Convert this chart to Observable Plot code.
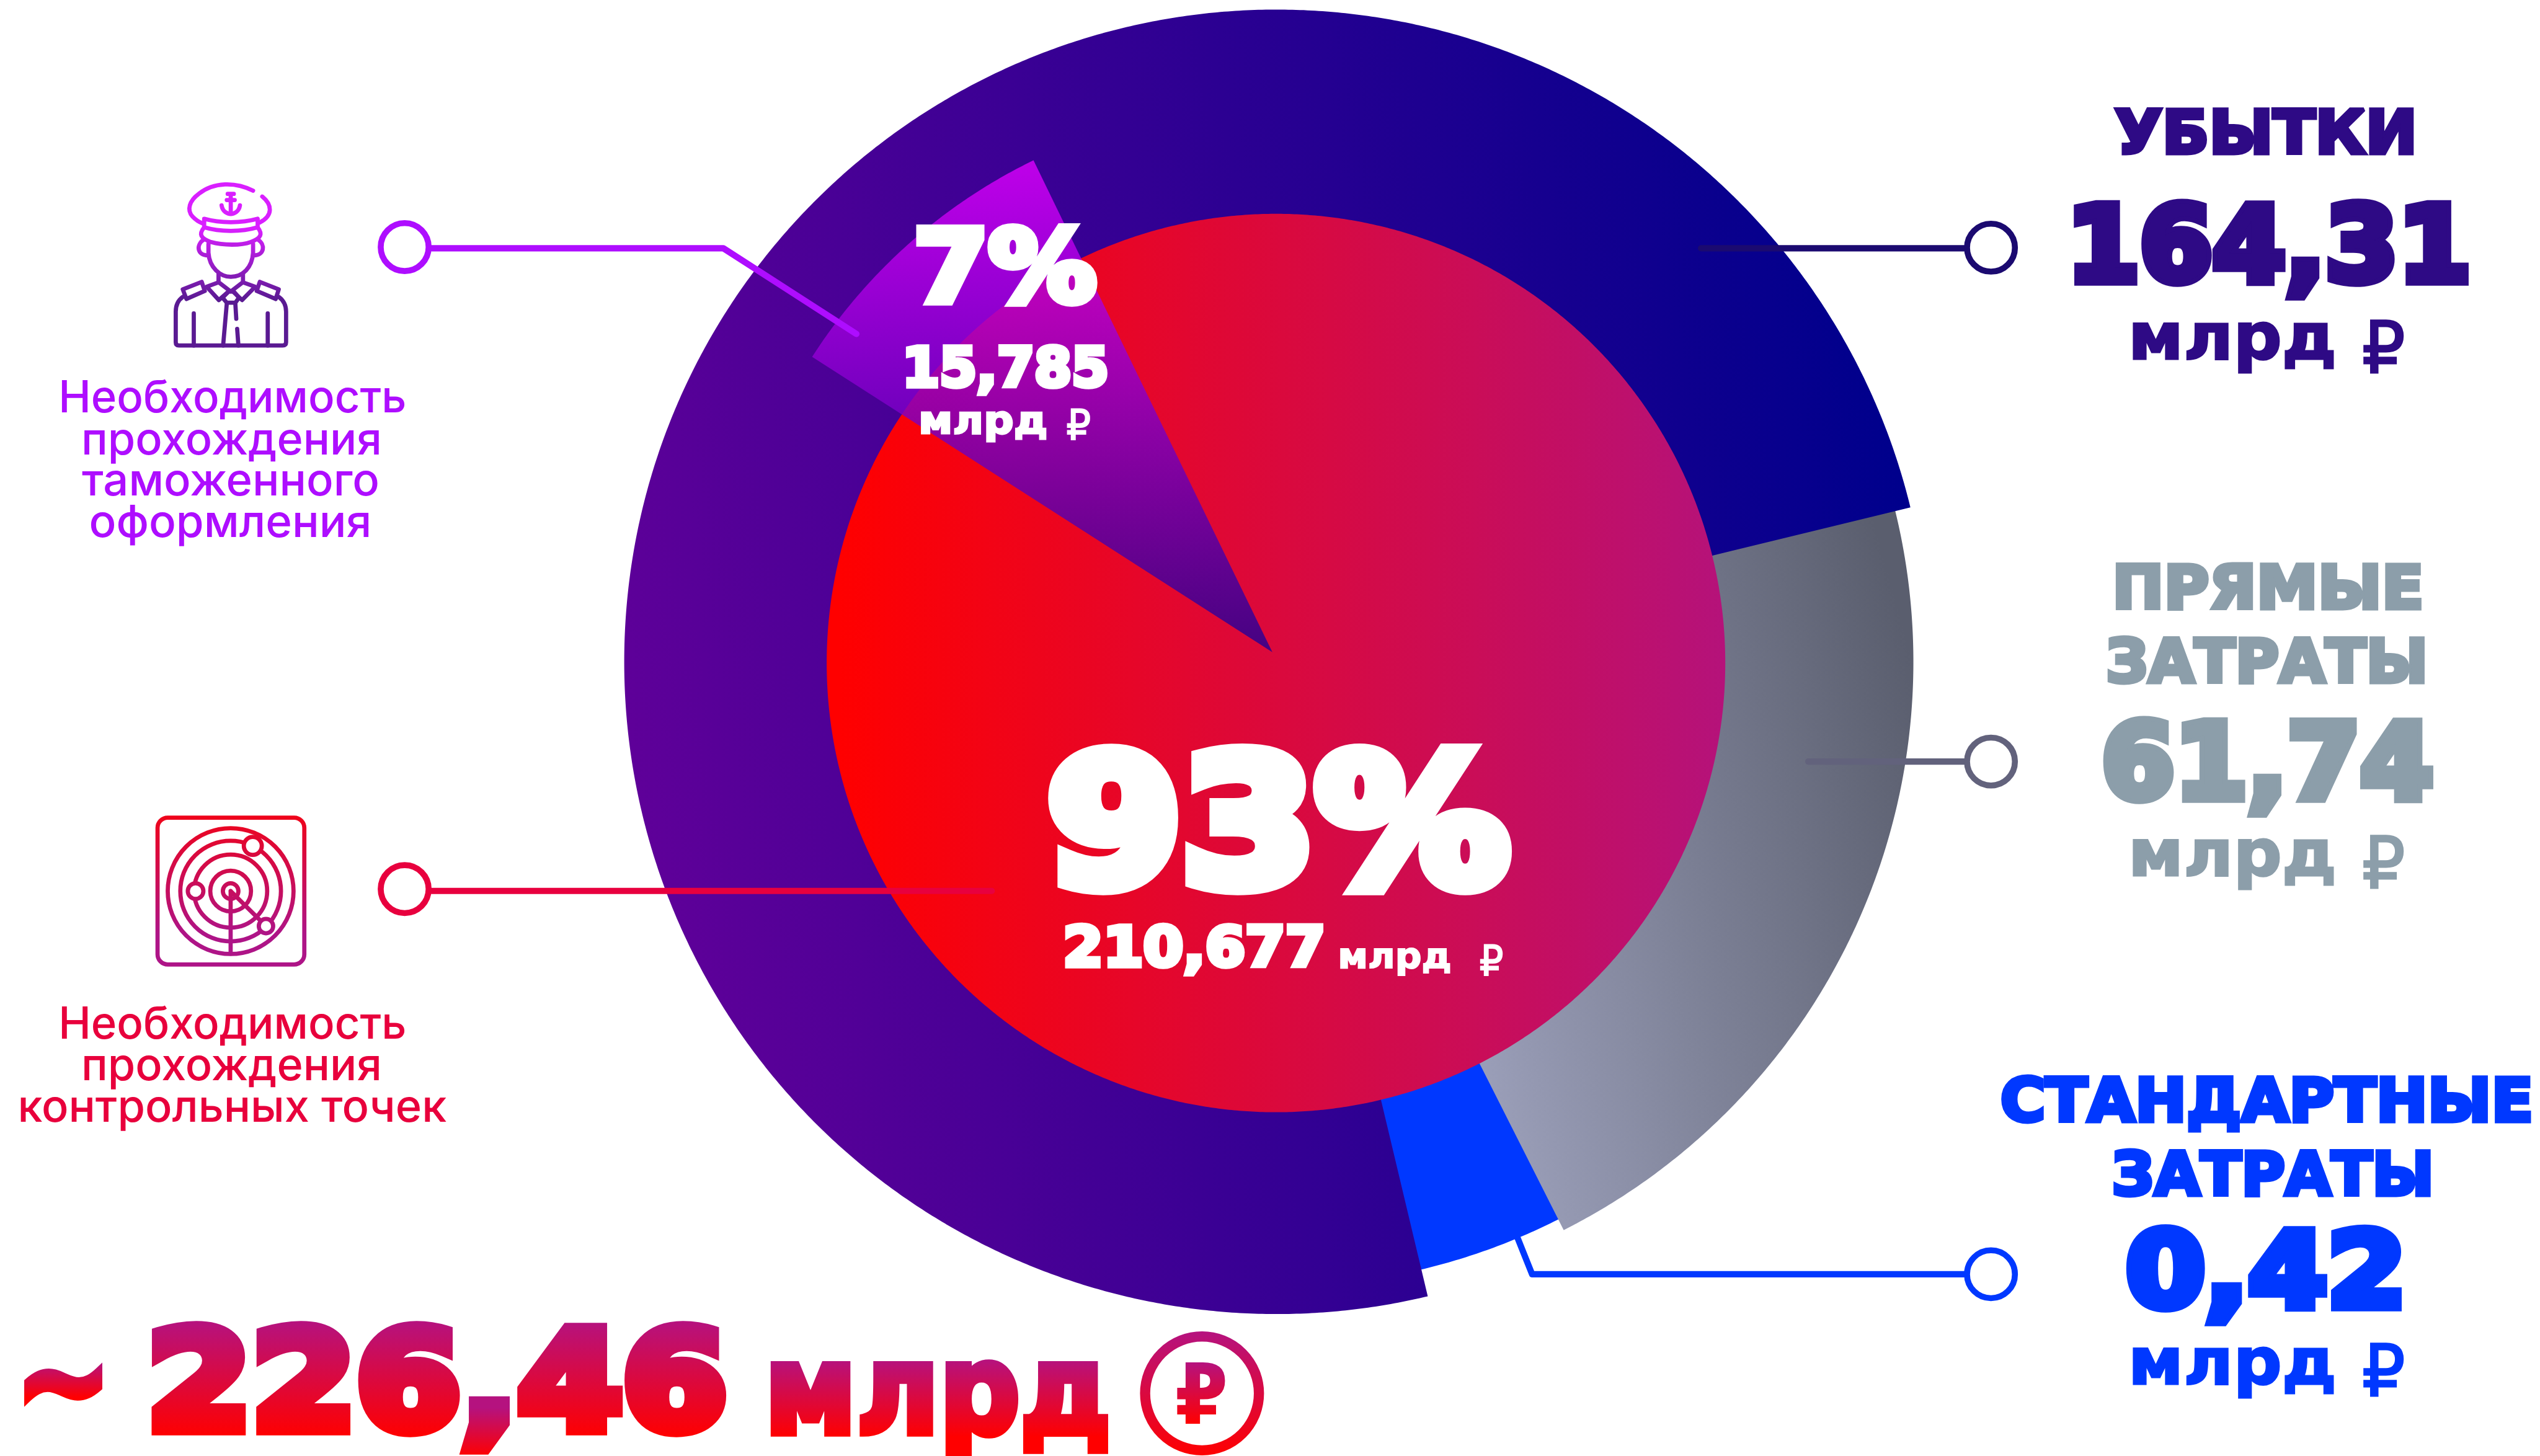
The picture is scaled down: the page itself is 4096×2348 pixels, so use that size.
<!DOCTYPE html>
<html lang="ru">
<head>
<meta charset="utf-8">
<style>html,body{margin:0;padding:0;background:#fff}svg{display:block}</style>
<script src="https://cdn.jsdelivr.net/npm/d3@7"></script>
<script src="https://cdn.jsdelivr.net/npm/@observablehq/plot@0.6"></script>
</head>
<body>
<script>
// ---------- values ----------
const ringNames   = ["УБЫТКИ", "ПРЯМЫЕ", "ЗАТРАТЫ"];
const ringValues  = [164.31, 61.74, 0.42];
const pieValues   = [210.677, 15.785];
const pieShares   = ["93%", "7%"];
const totalValue  = 226.46;
const leftLabels  = [
  ["Необходимость", "прохождения", "таможенного", "оформления"],
  ["Необходимость", "прохождения", "контрольных точек"]
];
const unitWord = "млрд", unitSign = "₽";
const fmt = v => String(v).replace(".", ",");

// ---------- drawn geometry (the source artwork's angles, degrees clockwise from 12 o'clock) ----------
const W = 4240, H = 2431, k = 4096 / 4240;
const ringSectors = [
  {id: "blue",   value: ringValues[2], cx: 2131, cy: 1105, r0: 700, r1: 1043, a0: 150,   a1: 168},
  {id: "grey",   value: ringValues[1], cx: 2131, cy: 1105, r0: 700, r1: 1063, a0: 74,    a1: 153.2},
  {id: "violet", value: ringValues[0], cx: 2131, cy: 1105, r0: 700, r1: 1089, a0: -193.4, a1: 76.3}
];
const pieSectors = [
  {id: "red",   value: pieValues[0], cx: 2130, cy: 1107, r0: 0, r1: 750, a0: 0,     a1: 360, o: 1},
  {id: "wedge", value: pieValues[1], cx: 2124, cy: 1089, r0: 0, r1: 913, a0: -57.3, a1: -25.9, o: 0.8}
];
const rad = d => d * Math.PI / 180;
const sectorPoints = s => {
  const n = Math.ceil(Math.abs(s.a1 - s.a0) * 3);
  return d3.range(n + 1).map(i => {
    const a = rad(s.a0 + (s.a1 - s.a0) * i / n);
    return {x1: s.cx + s.r0 * Math.sin(a), y1: s.cy - s.r0 * Math.cos(a),
            x2: s.cx + s.r1 * Math.sin(a), y2: s.cy - s.r1 * Math.cos(a)};
  });
};
const sectorMark = s => Plot.area(sectorPoints(s), {x1: "x1", y1: "y1", x2: "x2", y2: "y2", fill: `url(#g-${s.id})`, fillOpacity: s.o ?? 1, curve: "linear"});

// connectors
const connectors = [
  {color: "#ae0dff", dot: [675, 412],  path: [[720, 414], [1207, 414], [1429, 557]]},
  {color: "#e8003e", dot: [675, 1484], path: [[720, 1487], [1655, 1487]]},
  {color: "#1b0a70", dot: [3323, 413], path: [[3278, 414], [2839, 414]]},
  {color: "#62627c", dot: [3323, 1271], path: [[3278, 1271], [3018, 1271]]},
  {color: "#0038ff", dot: [3323, 2127], path: [[3278, 2127], [2557, 2127], [2533, 2067], [2520, 2040]]}
];
const connectorLine = c => Plot.line(c.path, {x: d => d[0], y: d => d[1], stroke: c.color, strokeWidth: 10.5 * k, strokeLinejoin: "round", strokeLinecap: "round", curve: "linear"});
const connectorDot = c => Plot.dot([c.dot], {x: d => d[0], y: d => d[1], r: 40 * k, stroke: c.color, strokeWidth: 10 * k, fill: "#fff"});

// ---------- text ----------
const HEAVY = "'DejaVu Sans'", LIGHT = "Inter";
const indigo = "#2e0a85", slate = "#8c9eaa", cobalt = "#0038ff", white = "#ffffff";
const violetText = "#ae0dff", redText = "#e8003c";
const unitRows = (x1, y1, y2, c) => [
  {t: unitWord, x: x1, y: y1, w: 338, s: 109, c, sw: 3},
  {t: unitSign, x: x1 + 252.5, y: y2, w: 75, s: 119, c, sw: 3, wt: 400, pad: 0}
];
const textRows = [
  {t: ringNames[0], x: 3782, y: 259, w: 500, s: 100, c: indigo, sw: 7},
  {t: fmt(ringValues[0]), x: 3787, y: 476, w: 670, s: 173, c: indigo, sw: 16},
  ...unitRows(3726, 600, 623, indigo),
  {t: ringNames[1], x: 3785.5, y: 1019, w: 515, s: 100, c: slate, sw: 7},
  {t: ringNames[2], x: 3783.5, y: 1142, w: 533, s: 100, c: slate, sw: 7},
  {t: fmt(ringValues[1]), x: 3784.5, y: 1340, w: 549, s: 173, c: slate, sw: 16},
  ...unitRows(3726, 1463, 1484, slate),
  {t: "СТАНДАРТНЫЕ", x: 3783.5, y: 1875, w: 891, s: 100, c: cobalt, sw: 7, pad: 0.06},
  {t: ringNames[2], x: 3793.5, y: 1998, w: 533, s: 100, c: cobalt, sw: 7},
  {t: fmt(ringValues[2]), x: 3782.5, y: 2189, w: 463, s: 173, c: cobalt, sw: 16},
  ...unitRows(3726, 2312, 2332, cobalt),
  {t: pieShares[0], x: 2133, y: 1490, w: 763, s: 298, c: white, sw: 28},
  {t: fmt(pieValues[0]), x: 1993, y: 1617, w: 435, s: 92, c: white, sw: 8},
  {t: unitWord, x: 2327.5, y: 1617, w: 185, s: 59, c: white, sw: 2},
  {t: unitSign, x: 2489, y: 1629, w: 42, s: 70, c: white, sw: 2, wt: 400, pad: 0},
  {t: pieShares[1], x: 1677, y: 510, w: 299, s: 166, c: white, sw: 14},
  {t: fmt(pieValues[1]), x: 1678, y: 648, w: 342, s: 90, c: white, sw: 8},
  {t: unitWord, x: 1640.5, y: 725, w: 211, s: 64, c: white, sw: 3},
  {t: unitSign, x: 1800, y: 735, w: 43, s: 70, c: white, sw: 2, wt: 400, pad: 0},
  {t: "~", x: 105, y: 2387, w: 146, s: 220, sw: 14, g: [2274, 2333]},
  {t: fmt(totalValue), x: 729, y: 2396, w: 963, s: 228, sw: 22, g: [2205, 2398], comma: [2350, 2431]},
  {t: unitWord, x: 1565, y: 2398, w: 566, s: 209, sw: 12, g: [2269, 2398]},
  {t: unitSign, x: 2005, y: 2377, w: 89, s: 141, sw: 0, g: [2274, 2377], pad: 0}
];
const leftRows = [
  ...leftLabels[0].map(t => ({t, c: violetText})),
  ...leftLabels[1].map(t => ({t, c: redText}))
];
const leftLayout = [[387.5, 688, 581], [386, 758, 502], [384.5, 827, 497], [384, 896, 472], [387.5, 1734, 581], [386, 1803, 502], [387, 1872, 716]];
leftRows.forEach((r, i) => { [r.x, r.y, r.w] = leftLayout[i]; r.s = 74; r.sw = 0; r.pad = 0; r.wt = 500; r.fam = LIGHT; });

textRows.forEach((r, i) => {
  r.by = r.y - r.sw / 2;               // baseline, so that the inked glyph ends where it did
  if (r.g) { r.gid = `g-t${i}`; r.c = `url(#${r.gid})`; }
});
leftRows.forEach(r => { r.by = r.y; });
const textMark = r => Plot.text([r], {
  x: "x", y: "by", text: "t", fontFamily: r.fam || HEAVY, fontWeight: r.wt || 700, fontSize: r.s * k,
  textAnchor: "middle", lineAnchor: "bottom", fill: r.c, stroke: r.sw ? r.c : "none",
  strokeWidth: r.sw * k, strokeLinejoin: "miter", strokeMiterlimit: 2.5
});

// ---------- icons (drawn in the coordinates of the artwork) ----------
const officerPaths = [
  "M828 153C770 120 700 120 650 165C620 190 610 225 630 250C640 262 650 270 662 275",
  "M858 175C890 205 895 245 850 272",
  "M668 258C720 275 790 275 843 258L843 290C790 308 720 308 668 290Z",
  "M668 290C650 315 655 330 690 345C730 358 790 358 820 345C855 330 860 315 843 290",
  "M668 335C640 355 645 395 680 395M843 335C870 355 865 395 830 395",
  "M682 352L682 385C685 440 720 475 755 475C795 475 825 440 828 385L828 352",
  "M715 462L715 495L755 530L795 495L795 462",
  "M712 497L676 512L716 562L748 530M798 497L835 512L792 562L762 530",
  "M748 530L765 530L782 553L770 572L742 572L728 553Z",
  "M598 522L660 494L670 528L610 558ZM850 494L912 522L902 558L840 528Z",
  "M598 550C580 565 575 585 575 605L575 720Q575 732 585 732L925 732Q936 732 936 720L936 605C936 585 930 565 912 550",
  "M634 612L634 732M876 612L876 732",
  "M742 575L730 732M770 575L773 632M776 670L780 732",
  "M755 165L755 240M745 165L765 165M742 188L768 188M725 208C728 232 745 240 755 240C765 240 782 232 785 208"
];
const radarRings = [105, 84, 61, 34, 13];
const radarBlips = [[422, 1412, 15], [326.5, 1487.5, 13], [444, 1546, 12]];

function iconsMark() {
  const g = d3.create("svg:g").attr("fill", "none").attr("stroke-linecap", "round").attr("stroke-linejoin", "round");
  const off = g.append("g").attr("transform", `scale(${k}) translate(0,250) scale(${1 / 1.96},${1 / 2.24})`).attr("stroke", "url(#g-officer)");
  off.selectAll("path").data(officerPaths).join("path").attr("d", d => d).attr("stroke-width", 7 * k).attr("vector-effect", "non-scaling-stroke");
  const radar = g.append("g").attr("transform", `scale(${k})`).attr("stroke", "url(#g-radar)").attr("stroke-width", 7);
  radar.append("rect").attr("x", 263).attr("y", 1365).attr("width", 245).attr("height", 245).attr("rx", 17);
  radar.selectAll(".ring").data(radarRings).join("circle").attr("class", "ring").attr("cx", 385).attr("cy", 1487.5).attr("r", d => d);
  radar.append("path").attr("d", "M385 1487.5L385 1592M385 1487.5L444 1546");
  radar.selectAll(".blip").data(radarBlips).join("circle").attr("class", "blip").attr("cx", d => d[0]).attr("cy", d => d[1]).attr("r", d => d[2]).attr("fill", "#fff");
  return g.node();
}

// ---------- plot ----------
const marks = [
  connectorLine(connectors[4]),
  ...ringSectors.map(sectorMark),
  ...pieSectors.map(sectorMark),
  ...connectors.slice(0, 4).map(connectorLine),
  ...connectors.map(connectorDot),
  Plot.dot([[2006, 2326]], {x: d => d[0], y: d => d[1], r: 95 * k, stroke: "url(#g-badge)", strokeWidth: 17 * k, fill: "none"}),
  ...textRows.map(textMark),
  ...leftRows.map(textMark),
  iconsMark
];
const plot = Plot.plot({
  width: 4096, height: 2348, margin: 0,
  style: {background: "#fff", overflow: "hidden"},
  x: {domain: [0, W], range: [0, 4096], axis: null},
  y: {domain: [0, H], range: [0, 2348], axis: null},
  marks
});
document.body.appendChild(plot);

// ---------- paint servers, in artwork coordinates ----------
const svg = d3.select(plot), defs = svg.append("defs");
const TOP = "#b5127f", BOTTOM = "#ff0000";
function grad(id, [x1, y1], [x2, y2], stops) {
  const g = defs.append("linearGradient").attr("id", id).attr("gradientUnits", "userSpaceOnUse")
    .attr("x1", x1 * k).attr("y1", y1 * k).attr("x2", x2 * k).attr("y2", y2 * k);
  stops.forEach(([o, c]) => g.append("stop").attr("offset", o).attr("stop-color", c));
}
grad("g-violet", [1043, 1290], [3190, 920], [[0, "#5f0099"], [1, "#00008c"]]);
grad("g-grey", [2471, 1776], [3312, 1550], [[0, "#9a9eb8"], [1, "#5a5e6e"]]);
grad("g-blue", [0, 0], [4240, 0], [[0, "#0038ff"], [1, "#0038ff"]]);
grad("g-red", [1400, 0], [2879, 0], [[0, "#ff0000"], [1, "#b5127a"]]);
grad("g-wedge", [0, 267], [0, 1089], [[0, "#e000ff"], [1, "#1f0094"]]);
grad("g-officer", [0, 306], [0, 580], [[0, "#d91fff"], [1, "#5a1a92"]]);
grad("g-radar", [0, 1361], [0, 1614], [[0, "#ff0000"], [1, "#ae1487"]]);
grad("g-badge", [0, 2222], [0, 2430], [[0, TOP], [1, BOTTOM]]);
// a text is placed by a transform, so its paint is measured from its own baseline
textRows.filter(r => r.g).forEach(r => {
  grad(r.gid, [0, r.g[0] - r.by], [0, r.g[1] - r.by], [[0, TOP], [1, BOTTOM]]);
  if (r.comma) grad(r.gid + "c", [0, r.comma[0] - r.by], [0, r.comma[1] - r.by], [[0, TOP], [1, BOTTOM]]);
});

// fit every line to its measured width
const allRows = [...textRows, ...leftRows];
svg.selectAll("text").each(function (_, i) {
  const r = allRows[i];
  const el = d3.select(this);
  const pad = r.pad ?? 0.12;
  el.attr("textLength", (r.w + pad * r.s - r.sw) * k).attr("lengthAdjust", "spacingAndGlyphs");
  if (r.comma) {
    const [a, b] = r.t.split(",");
    el.text(null);
    el.append("tspan").text(a);
    el.append("tspan").attr("fill", `url(#${r.gid}c)`).attr("stroke", `url(#${r.gid}c)`).text(",");
    el.append("tspan").text(b);
  }
});
</script>
</body>
</html>
